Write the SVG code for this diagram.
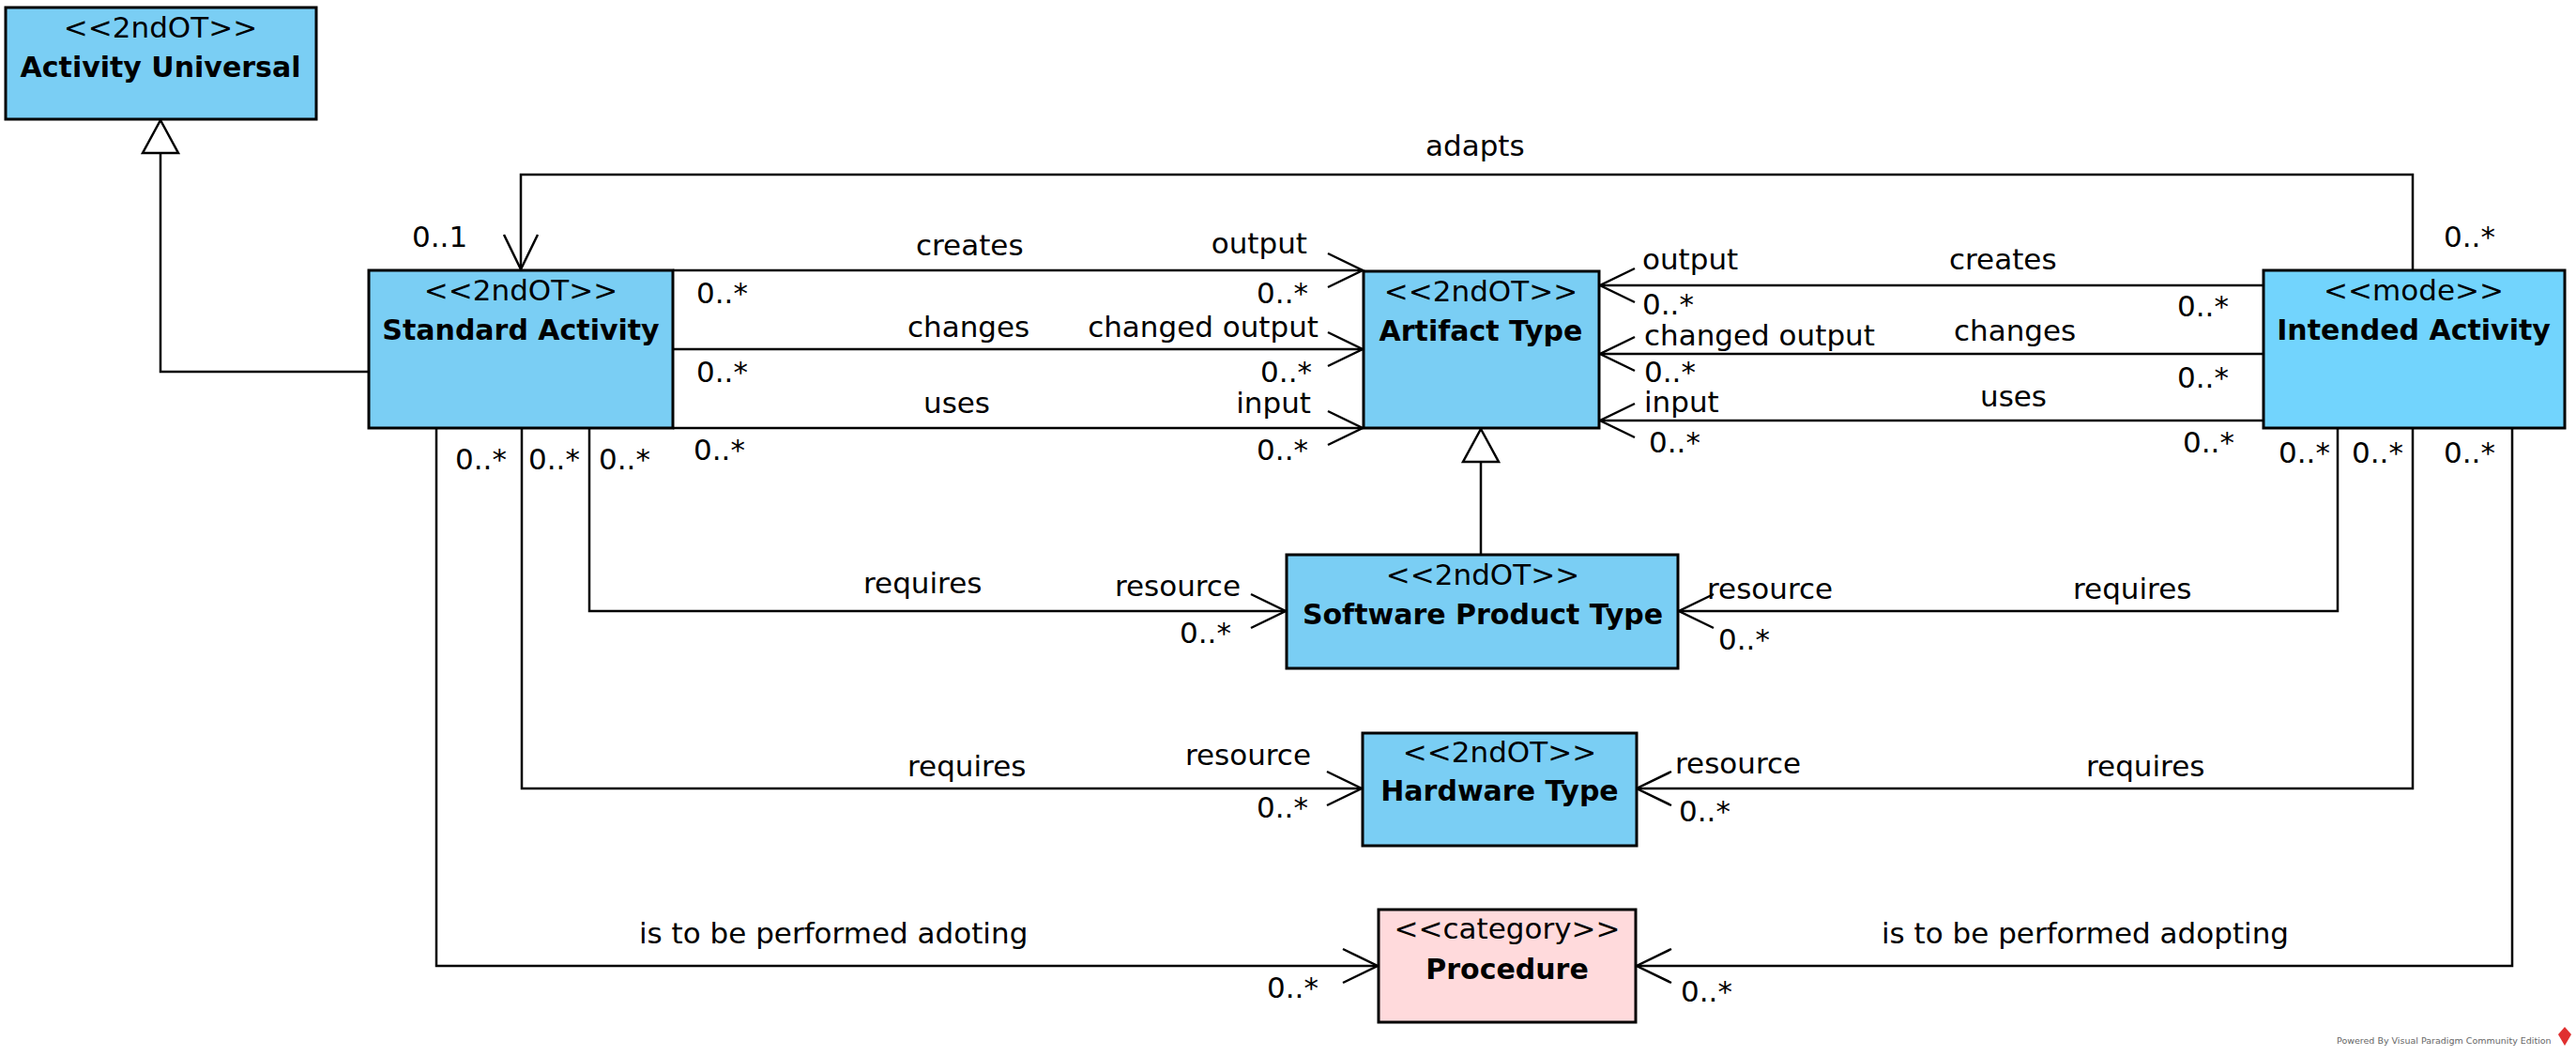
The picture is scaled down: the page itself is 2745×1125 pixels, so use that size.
<svg xmlns="http://www.w3.org/2000/svg" width="2745" height="1125" viewBox="0 0 2745 1125">
<defs>
<style>
.box{fill:#7ACEF4;stroke:#000;stroke-width:3}
.ia{fill:#72D4FD;stroke:#000;stroke-width:3}
.cat{fill:#FFDADC;stroke:#000;stroke-width:3}
.st{font-family:"DejaVu Sans",sans-serif;font-size:31px;text-anchor:middle;fill:#000}
.nm{font-family:"DejaVu Sans",sans-serif;font-size:30px;font-weight:bold;text-anchor:middle;fill:#000}
.lb{font-family:"DejaVu Sans",sans-serif;font-size:31px;fill:#000}
.end{text-anchor:end}
.c{fill:none;stroke:#000;stroke-width:2.5}
.assoc{marker-end:url(#open)}
.gen{marker-end:url(#tri)}
</style>
<marker id="open" markerUnits="userSpaceOnUse" viewBox="-45 -25 50 50" refX="0" refY="0" markerWidth="50" markerHeight="50" orient="auto" overflow="visible">
<path d="M-37,-18 L0,0 L-37,18" fill="none" stroke="#000" stroke-width="2.5"/>
</marker>
<marker id="tri" markerUnits="userSpaceOnUse" viewBox="-45 -25 50 50" refX="0" refY="0" markerWidth="50" markerHeight="50" orient="auto" overflow="visible">
<path d="M0,0 L-35,-19 L-35,19 Z" fill="#fff" stroke="#000" stroke-width="2.5"/>
</marker>
</defs>
<rect width="2745" height="1125" fill="#fff"/>

<g id="connectors">
<polyline class="c gen" points="393,396 171,396 171,128"/>
<polyline class="c assoc" points="2571,288 2571,186 555,186 555,287"/>
<line class="c assoc" x1="717" y1="288" x2="1452" y2="288"/>
<line class="c assoc" x1="717" y1="372" x2="1452" y2="372"/>
<line class="c assoc" x1="717" y1="456" x2="1452" y2="456"/>
<line class="c assoc" x1="2412" y1="304" x2="1705" y2="304"/>
<line class="c assoc" x1="2412" y1="377" x2="1705" y2="377"/>
<line class="c assoc" x1="2412" y1="448" x2="1705" y2="448"/>
<line class="c gen" x1="1578" y1="591" x2="1578" y2="457"/>
<polyline class="c assoc" points="628,456 628,651 1370,651"/>
<polyline class="c assoc" points="556,456 556,840 1451,840"/>
<polyline class="c assoc" points="465,456 465,1029 1468,1029"/>
<polyline class="c assoc" points="2491,456 2491,651 1789,651"/>
<polyline class="c assoc" points="2571,456 2571,840 1744,840"/>
<polyline class="c assoc" points="2677,456 2677,1029 1744,1029"/>

<text class="lb" x="439" y="263">0..1</text>
<text class="lb" x="1519" y="166">adapts</text>
<text class="lb" x="2604" y="263">0..*</text>

<text class="lb" x="976" y="272">creates</text>
<text class="lb end" x="1393" y="270">output</text>
<text class="lb" x="742" y="323">0..*</text>
<text class="lb end" x="1394" y="323">0..*</text>
<text class="lb" x="967" y="359">changes</text>
<text class="lb end" x="1405" y="359">changed output</text>
<text class="lb" x="742" y="407">0..*</text>
<text class="lb end" x="1398" y="407">0..*</text>
<text class="lb" x="984" y="440">uses</text>
<text class="lb end" x="1397" y="440">input</text>
<text class="lb" x="739" y="490">0..*</text>
<text class="lb end" x="1394" y="490">0..*</text>

<text class="lb" x="1750" y="287">output</text>
<text class="lb" x="2077" y="287">creates</text>
<text class="lb" x="1750" y="335">0..*</text>
<text class="lb" x="2320" y="337">0..*</text>
<text class="lb" x="1752" y="368">changed output</text>
<text class="lb" x="2082" y="363">changes</text>
<text class="lb" x="1752" y="407">0..*</text>
<text class="lb" x="2320" y="413">0..*</text>
<text class="lb" x="1752" y="439">input</text>
<text class="lb" x="2110" y="433">uses</text>
<text class="lb" x="1757" y="482">0..*</text>
<text class="lb" x="2326" y="482">0..*</text>

<text class="lb" x="2428" y="493">0..*</text>
<text class="lb" x="2506" y="493">0..*</text>
<text class="lb" x="2604" y="493">0..*</text>
<text class="lb" x="485" y="500">0..*</text>
<text class="lb" x="563" y="500">0..*</text>
<text class="lb" x="638" y="500">0..*</text>

<text class="lb" x="920" y="632">requires</text>
<text class="lb end" x="1322" y="635">resource</text>
<text class="lb" x="1257" y="685">0..*</text>
<text class="lb" x="1819" y="638">resource</text>
<text class="lb" x="2209" y="638">requires</text>
<text class="lb" x="1831" y="692">0..*</text>

<text class="lb" x="967" y="827">requires</text>
<text class="lb end" x="1397" y="815">resource</text>
<text class="lb" x="1339" y="871">0..*</text>
<text class="lb" x="1785" y="824">resource</text>
<text class="lb" x="2223" y="827">requires</text>
<text class="lb" x="1789" y="875">0..*</text>

<text class="lb" x="681" y="1005">is to be performed adoting</text>
<text class="lb" x="1350" y="1063">0..*</text>
<text class="lb" x="2005" y="1005">is to be performed adopting</text>
<text class="lb" x="1791" y="1067">0..*</text>
</g>

<g id="activity-universal">
<rect class="box" x="6" y="8" width="331" height="119"/>
<text class="st" x="171" y="40">&lt;&lt;2ndOT&gt;&gt;</text>
<text class="nm" x="171" y="82">Activity Universal</text>
</g>
<g id="standard-activity">
<rect class="box" x="393" y="288" width="324" height="168"/>
<text class="st" x="555" y="320">&lt;&lt;2ndOT&gt;&gt;</text>
<text class="nm" x="555" y="362">Standard Activity</text>
</g>
<g id="artifact-type">
<rect class="box" x="1453" y="289" width="251" height="167"/>
<text class="st" x="1578" y="321">&lt;&lt;2ndOT&gt;&gt;</text>
<text class="nm" x="1578" y="363">Artifact Type</text>
</g>
<g id="intended-activity">
<rect class="ia" x="2412" y="288" width="321" height="168"/>
<text class="st" x="2572" y="320">&lt;&lt;mode&gt;&gt;</text>
<text class="nm" x="2572" y="362">Intended Activity</text>
</g>
<g id="software-product-type">
<rect class="box" x="1371" y="591" width="417" height="121"/>
<text class="st" x="1580" y="623">&lt;&lt;2ndOT&gt;&gt;</text>
<text class="nm" x="1580" y="665">Software Product Type</text>
</g>
<g id="hardware-type">
<rect class="box" x="1452" y="781" width="292" height="120"/>
<text class="st" x="1598" y="812">&lt;&lt;2ndOT&gt;&gt;</text>
<text class="nm" x="1598" y="853">Hardware Type</text>
</g>
<g id="procedure">
<rect class="cat" x="1469" y="969" width="274" height="120"/>
<text class="st" x="1606" y="1000">&lt;&lt;category&gt;&gt;</text>
<text class="nm" x="1606" y="1043">Procedure</text>
</g>

<g id="watermark">
<text x="2490" y="1112" font-family="DejaVu Sans, sans-serif" font-size="9.5" fill="#666">Powered By Visual Paradigm Community Edition</text>
<path d="M2733,1094 L2740,1102 L2733,1114 L2726,1102 Z" fill="#E03030"/>
</g>
</svg>
